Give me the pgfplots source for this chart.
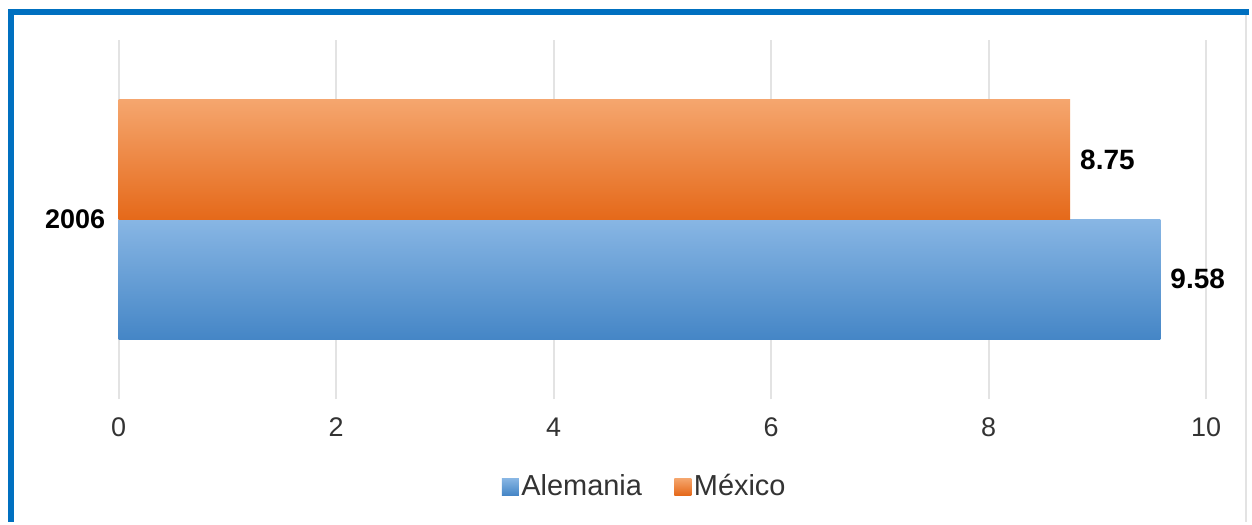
\documentclass[border=0pt]{standalone}
\usepackage{fontspec}
\setmainfont{Liberation Sans}
\usepackage{pgfplots}
\pgfplotsset{compat=1.18}
\definecolor{frameblue}{HTML}{0070C0}
\definecolor{gridgray}{HTML}{E3E3E3}
\definecolor{orTop}{HTML}{F5A66E}
\definecolor{orMid}{HTML}{F27F2A}
\definecolor{orBot}{HTML}{E5691A}
\definecolor{blTop}{HTML}{88B6E4}
\definecolor{blMid}{HTML}{549CDD}
\definecolor{blBot}{HTML}{4586C6}
\definecolor{ticktext}{HTML}{333333}
\begin{document}
\begin{tikzpicture}
\fill[white] (0,0) rectangle (626pt,261.5pt);
\begin{axis}[
  scale only axis,
  width=545pt, height=180pt,
  anchor=south west, at={(59.5pt,61.5pt)},
  xmin=0, xmax=10,
  ymin=-1.5, ymax=1.5,
  xtick={0,2,4,6,8,10},
  ytick={0}, yticklabels={2006},
  xmajorgrids, ymajorgrids=false,
  grid style={gridgray, line width=1pt},
  axis line style={draw=none},
  tick style={draw=none},
  /pgf/number format/assume math mode=true,
  xticklabel style={font=\fontsize{13.5}{16}\selectfont, text=ticktext, yshift=-6pt},
  yticklabel style={font=\fontsize{13.5}{16}\selectfont\bfseries, xshift=1pt},
  xbar,
  bar width=1,
  point meta=explicit symbolic,
  nodes near coords,
  nodes near coords style={font=\fontsize{14}{16}\selectfont\bfseries, anchor=west, xshift=1.5pt},
  legend columns=2,
  legend style={draw=none, fill=none, at={(0.484,-0.244)}, anchor=center,
    font=\fontsize{14.5}{17}\selectfont, text=ticktext,
    /tikz/every even column/.append style={column sep=15pt},
    inner sep=0pt, nodes={inner sep=1.25pt}},
  legend image code/.code={\path[#1] (0pt,-4.25pt) rectangle (8.5pt,4.25pt);},
]
\addplot[draw=none, top color=blTop, middle color=blMid, bottom color=blBot, bar shift=-0.5]
  coordinates {(9.58,0) [9.58]};
\addlegendentry{Alemania}
\addplot[draw=none, top color=orTop, middle color=orMid, bottom color=orBot, bar shift=0.5]
  coordinates {(8.75,0) [8.75]};
\addlegendentry{México}
\end{axis}
\draw[frameblue, line width=3pt] (5.5pt,0) -- (5.5pt,255.5pt) -- (626pt,255.5pt);
\draw[gridgray, line width=1pt] (624.5pt,0) -- (624.5pt,254pt);
\end{tikzpicture}
\end{document}
